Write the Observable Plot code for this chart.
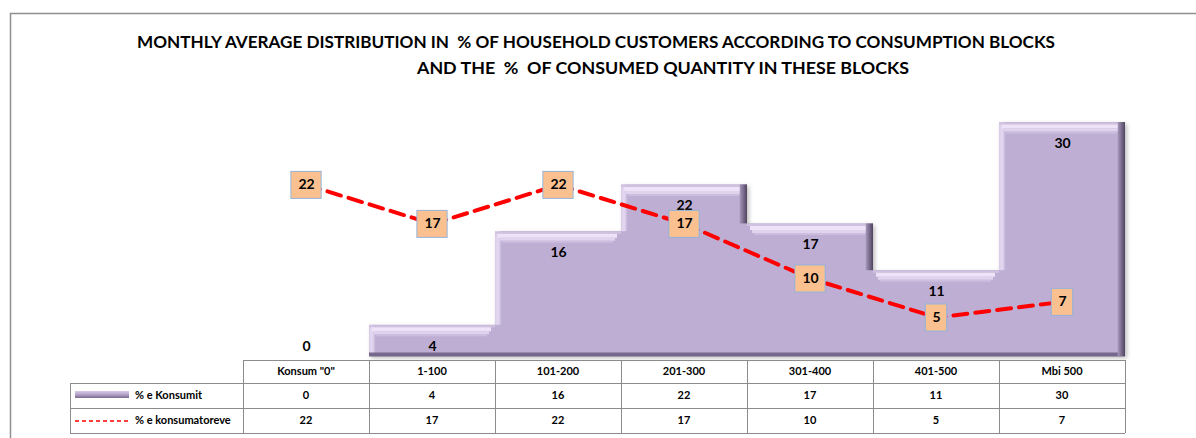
<!DOCTYPE html>
<html><head><meta charset="utf-8">
<script src="https://cdn.jsdelivr.net/npm/d3@7"></script>
<script src="https://cdn.jsdelivr.net/npm/@observablehq/plot@0.6"></script>
<style>
body{margin:0;background:#fff;}
#chart{position:relative;width:1196px;height:438px;overflow:hidden;}
</style></head><body><div id="chart"></div>
<script>
const categories = ['Konsum "0"', "1-100", "101-200", "201-300", "301-400", "401-500", "Mbi 500"];
const konsumit = [0, 4, 16, 22, 17, 11, 30];
const konsumatoreve = [22, 17, 22, 17, 10, 5, 7];
const seriesNames = ["% e Konsumit", "% e konsumatoreve"];
const titleLines = [
  "MONTHLY AVERAGE DISTRIBUTION IN  % OF HOUSEHOLD CUSTOMERS ACCORDING TO CONSUMPTION BLOCKS",
  "AND THE  %  OF CONSUMED QUANTITY IN THESE BLOCKS"
];

const data = categories.map((c, i) => ({
  cat: c, bar: konsumit[i], line: konsumatoreve[i],
  left: i > 0 ? konsumit[i - 1] : 0,
  right: i < categories.length - 1 ? konsumit[i + 1] : 0
}));

const W = 1196, H = 438, ML = 240, MR = 69;
const BW = (W - ML - MR) / categories.length;
const FONT = "Lato, 'Open Sans', sans-serif";
const bars = data.filter(d => d.bar > 0);
const wide = data.filter(d => d.line >= 10), narrow = data.filter(d => d.line < 10);

const plot = Plot.plot({
  width: W, height: H,
  marginLeft: ML, marginRight: MR, marginTop: 0, marginBottom: 0,
  x: {domain: categories, padding: 0, axis: null},
  y: {domain: [0, 30], range: [356, 122], axis: null},
  style: {fontFamily: FONT, background: "transparent"},
  marks: [
    // soft shadow
    Plot.barY(bars, {x: "cat", y: "bar", fill: "#6a6a6a", fillOpacity: 0.45, dx: 2, dy: 2}),
    // base body
    Plot.barY(bars, {x: "cat", y: "bar", fill: "#BEAED3"}),
    // left light bevel where taller than left neighbour
    Plot.barY(data.filter(d => d.bar > d.left), {x: "cat", y1: "left", y2: "bar", insetRight: BW - 7, fill: "url(#gL)"}),
    // top bevel
    Plot.tickY(bars, {x: "cat", y: "bar", dy: 1, stroke: "#CFC1DF", strokeWidth: 2}),
    Plot.tickY(bars, {x: "cat", y: "bar", dy: 4, stroke: "#EDE2F8", strokeWidth: 4, insetLeft: 3, insetRight: 4}),
    Plot.tickY(bars, {x: "cat", y: "bar", dy: 7.5, stroke: "#E0D3EE", strokeWidth: 3, insetLeft: 5, insetRight: 6}),
    Plot.tickY(bars, {x: "cat", y: "bar", dy: 10, stroke: "#CDBEE0", strokeWidth: 2, insetLeft: 7, insetRight: 8}),
    // bottom dark edge
    Plot.tickY(bars, {x: "cat", y: 0, dy: -2, stroke: "#76688A", strokeWidth: 4}),
    // right dark bevel where taller than right neighbour
    Plot.barY(data.filter(d => d.bar > d.right), {x: "cat", y1: "right", y2: "bar", insetLeft: BW - 8, fill: "url(#gR)"}),
    // bar value labels
    Plot.text(data, {x: "cat", y: d => Math.max(d.bar, 4), dy: 21, text: d => String(d.bar), fontSize: 14, fontWeight: "bold", fill: "#000"}),
    // dashed line
    Plot.line(data, {x: "cat", y: "line", stroke: "#FF0000", strokeWidth: 4, strokeDasharray: "14,8"}),
    // label boxes
    Plot.tickY(wide, {x: "cat", y: "line", stroke: "#95B3D7", strokeWidth: 28, insetLeft: (BW - 32) / 2, insetRight: (BW - 32) / 2}),
    Plot.tickY(wide, {x: "cat", y: "line", stroke: "#FAC090", strokeWidth: 26, insetLeft: (BW - 30) / 2, insetRight: (BW - 30) / 2}),
    Plot.tickY(narrow, {x: "cat", y: "line", stroke: "#95B3D7", strokeWidth: 28, insetLeft: (BW - 23) / 2, insetRight: (BW - 23) / 2}),
    Plot.tickY(narrow, {x: "cat", y: "line", stroke: "#FAC090", strokeWidth: 26, insetLeft: (BW - 21) / 2, insetRight: (BW - 21) / 2}),
    Plot.text(data, {x: "cat", y: "line", text: d => String(d.line), fontSize: 14, fontWeight: "bold", fill: "#000"})
  ]
});

const svg = d3.select(plot);
const defs = svg.insert("defs", ":first-child");
const gL = defs.append("linearGradient").attr("id", "gL").attr("x1", 0).attr("x2", 1).attr("y1", 0).attr("y2", 0);
gL.append("stop").attr("offset", 0).attr("stop-color", "#D9CCE6");
gL.append("stop").attr("offset", 0.5).attr("stop-color", "#E6D9F2");
gL.append("stop").attr("offset", 1).attr("stop-color", "#C6B6DA");
const gR = defs.append("linearGradient").attr("id", "gR").attr("x1", 0).attr("x2", 1).attr("y1", 0).attr("y2", 0);
gR.append("stop").attr("offset", 0).attr("stop-color", "#A797BB");
gR.append("stop").attr("offset", 1).attr("stop-color", "#4F4360");
const blur = defs.append("filter").attr("id", "blur").attr("x", "-10%").attr("y", "-10%").attr("width", "120%").attr("height", "120%");
blur.append("feGaussianBlur").attr("stdDeviation", 2);
const barGroups = svg.selectAll('g[aria-label="bar"]').nodes();
if (barGroups.length) barGroups[0].setAttribute("filter", "url(#blur)");

// chart frame
svg.append("path").attr("d", `M10.5,${H}V13.5H${W}`).attr("fill", "none").attr("stroke", "#8f8f8f").attr("stroke-width", 1.5);

// title
svg.append("text").attr("x", 596).attr("y", 48).attr("text-anchor", "middle")
  .attr("font-family", FONT).attr("font-weight", "bold").attr("font-size", 17)
  .attr("textLength", 918).attr("lengthAdjust", "spacingAndGlyphs").attr("fill", "#000")
  .text(titleLines[0]);
svg.append("text").attr("x", 663).attr("y", 74).attr("text-anchor", "middle")
  .attr("font-family", FONT).attr("font-weight", "bold").attr("font-size", 17)
  .attr("textLength", 492).attr("lengthAdjust", "spacingAndGlyphs").attr("fill", "#000")
  .text(titleLines[1]);

// data table aligned to the x scale
const xs = plot.scale("x");
const bw = xs.bandwidth;
const starts = categories.map(c => xs.apply(c));
const xL = starts[0], xR = starts[starts.length - 1] + bw;
const rows = [360, 383, 408, 433];
const T = svg.append("g").attr("stroke", "#8c8c8c").attr("stroke-width", 1).attr("shape-rendering", "crispEdges");
T.append("line").attr("x1", xL).attr("x2", xR).attr("y1", rows[0]).attr("y2", rows[0]);
rows.slice(1).forEach(y => T.append("line").attr("x1", 70).attr("x2", xR).attr("y1", y).attr("y2", y));
starts.concat([xR]).forEach(x => T.append("line").attr("x1", x).attr("x2", x).attr("y1", rows[0]).attr("y2", rows[3]));
T.append("line").attr("x1", 70).attr("x2", 70).attr("y1", rows[1]).attr("y2", rows[3]);

const TT = svg.append("g").attr("font-family", FONT).attr("font-weight", "bold").attr("font-size", 11).attr("fill", "#000").attr("text-anchor", "middle");
categories.forEach((c, i) => {
  const cx = starts[i] + bw / 2;
  TT.append("text").attr("x", cx).attr("y", (rows[0] + rows[1]) / 2).attr("dy", "0.35em").text(c);
  TT.append("text").attr("x", cx).attr("y", (rows[1] + rows[2]) / 2).attr("dy", "0.35em").text(konsumit[i]);
  TT.append("text").attr("x", cx).attr("y", (rows[2] + rows[3]) / 2).attr("dy", "0.35em").text(konsumatoreve[i]);
});
// legend keys in row headers
const gLeg = defs.append("linearGradient").attr("id", "gLeg").attr("x1", 0).attr("x2", 0).attr("y1", 0).attr("y2", 1);
gLeg.append("stop").attr("offset", 0).attr("stop-color", "#D9CBEA");
gLeg.append("stop").attr("offset", 0.5).attr("stop-color", "#B3A3C8");
gLeg.append("stop").attr("offset", 1).attr("stop-color", "#7A6B8E");
svg.append("rect").attr("x", 75).attr("y", 391).attr("width", 54).attr("height", 7).attr("fill", "url(#gLeg)");
svg.append("line").attr("x1", 75).attr("x2", 128).attr("y1", 421).attr("y2", 421)
  .attr("stroke", "#FF0000").attr("stroke-width", 1.3).attr("stroke-dasharray", "4,3");
const LT = svg.append("g").attr("font-family", FONT).attr("font-weight", "bold").attr("font-size", 11).attr("fill", "#000").attr("text-anchor", "start");
LT.append("text").attr("x", 135).attr("y", (rows[1] + rows[2]) / 2).attr("dy", "0.35em").text(seriesNames[0]);
LT.append("text").attr("x", 135).attr("y", (rows[2] + rows[3]) / 2).attr("dy", "0.35em").text(seriesNames[1]);

document.getElementById("chart").appendChild(plot);
</script></body></html>
